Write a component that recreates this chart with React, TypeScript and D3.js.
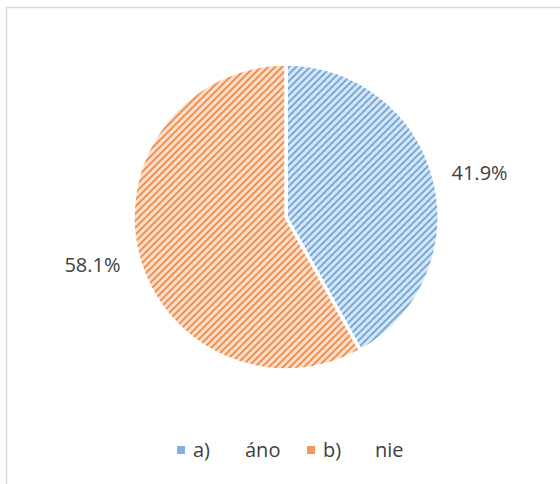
import { useMemo } from "react";
import * as d3 from "d3";

const categories = ["a)", "b)"];
const answers = ["áno", "nie"];
const shares = [41.9, 58.1];
const valueLabels = ["41.9%", "58.1%"];

const darkColors = ["#5b9bd5", "#ed7d31"];
const lightColors = ["#d6e4f4", "#fbdcc8"];
const swatchColors = ["#7fb0e0", "#f29a5e"];

const width = 560;
const height = 484;
const cx = 286;
const cy = 217;
const radius = 153;

export default function App() {
  const arcs = useMemo(
    () =>
      d3
        .pie<number>()
        .sort(null)
        .value((d) => d)(shares),
    []
  );

  const arc = d3
    .arc<d3.PieArcDatum<number>>()
    .innerRadius(0)
    .outerRadius(radius);

  // label spots outside the pie, roughly where Excel's best fit puts them
  const labelArc = d3
    .arc<d3.PieArcDatum<number>>()
    .innerRadius(radius + 47)
    .outerRadius(radius + 47);

  const legendX = [177, 307];
  const legendY = 450;

  return (
    <svg
      width={width}
      height={height}
      style={{ position: "absolute", left: 0, top: 0, fontFamily: "'Open Sans', sans-serif" }}
    >
      <defs>
        {categories.map((c, i) => (
          <pattern
            key={c}
            id={`hatch${i}`}
            width={7}
            height={7}
            patternUnits="userSpaceOnUse"
          >
            <rect width={7} height={7} fill={lightColors[i]} />
            <path
              d="M-1,1 L1,-1 M0,7 L7,0 M6,8 L8,6"
              stroke={darkColors[i]}
              strokeWidth={1.8}
              strokeOpacity={0.85}
            />
          </pattern>
        ))}
      </defs>
      <rect x={0} y={0} width={width} height={height} fill="#fff" />
      <path
        d={`M6.5,${height} V7.5 H${width}`}
        fill="none"
        stroke="#d9d9d9"
        strokeWidth={1.5}
      />
      <g transform={`translate(${cx},${cy})`}>
        {arcs.map((a, i) => (
          <path
            key={categories[i]}
            d={arc(a) ?? ""}
            fill={`url(#hatch${i})`}
            stroke="#fff"
            strokeWidth={3.5}
          />
        ))}
        {arcs.map((a, i) => {
          const [x, y] = labelArc.centroid(a);
          return (
            <text
              key={valueLabels[i]}
              x={x}
              y={y + (i === 0 ? 6 : -3)}
              textAnchor="middle"
              dominantBaseline="central"
              fontSize={20}
              fill="#404040"
            >
              {valueLabels[i]}
            </text>
          );
        })}
      </g>
      {categories.map((c, i) => (
        <g key={c} transform={`translate(${legendX[i]},${legendY})`}>
          <rect x={0} y={-4} width={8} height={8} fill={swatchColors[i]} />
          <text x={16} y={7} fontSize={20} fill="#404040">
            {c}
          </text>
          <text x={68} y={7} fontSize={20} fill="#404040">
            {answers[i]}
          </text>
        </g>
      ))}
    </svg>
  );
}
